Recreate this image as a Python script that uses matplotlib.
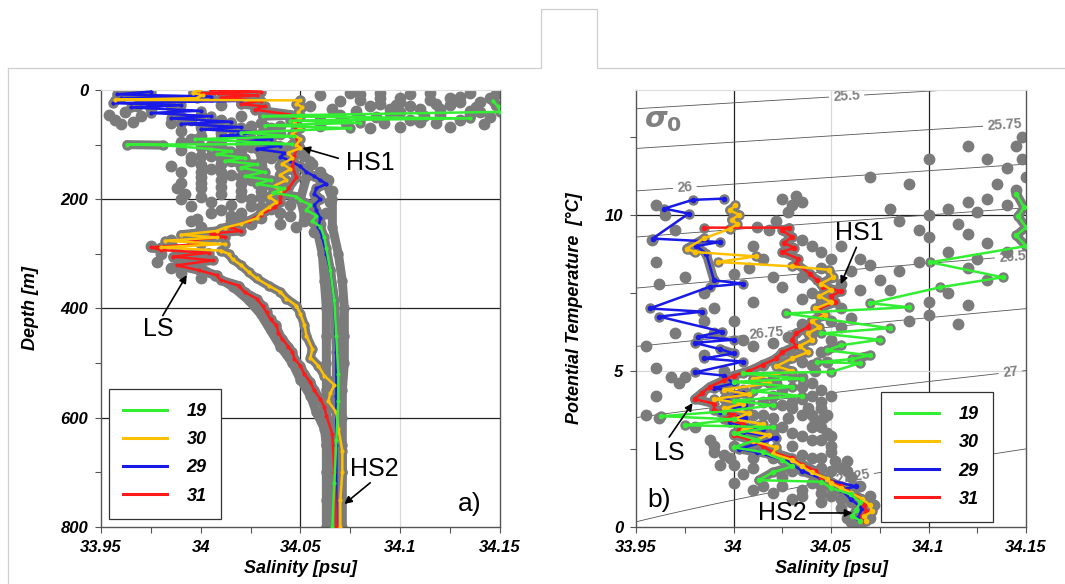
import numpy as np
import matplotlib.pyplot as plt
from matplotlib.lines import Line2D

plt.rcParams['font.family'] = ['Liberation Sans', 'DejaVu Sans']

# colours of the four stations
C19 = '#33ee33'
C30 = '#ffc000'
C29 = '#1a1ae6'
C31 = '#ff1a1a'
GRAY = '#7b7b7b'

stations = ['19', '30', '29', '31']

# ---------------- panel a) : (salinity psu, depth m) ----------------
st19_a = [(34.1465, 20), (34.149, 30), (34.15, 40), (34.05, 46), (34.031, 48), (34.135, 52),
          (34.045, 56), (34.08, 60), (34.032, 65), (34.075, 70), (34.02, 78), (34.047, 85),
          (33.997, 90), (34.046, 99), (33.963, 100), (33.981, 101), (34.005, 108), (34.015, 112),
          (34.008, 118), (34.022, 124), (34.012, 130), (34.028, 136), (34.02, 142), (34.032, 150),
          (34.022, 158), (34.035, 165), (34.028, 172), (34.042, 180), (34.036, 188), (34.048, 195),
          (34.05, 202), (34.055, 210), (34.053, 220), (34.058, 230), (34.056, 240), (34.06, 250),
          (34.062, 270), (34.063, 290), (34.065, 330), (34.067, 385), (34.068, 450), (34.069, 520),
          (34.069, 570), (34.068, 640), (34.067, 720), (34.066, 800)]

st29_a = [(33.975, 3), (33.958, 8), (34.005, 12), (33.96, 15), (34.02, 20), (33.956, 24),
          (33.99, 28), (33.965, 32), (34.0, 38), (33.975, 42), (34.005, 48), (33.985, 52),
          (34.015, 58), (33.99, 62), (34.02, 68), (34.0, 72), (34.03, 78), (34.01, 84),
          (34.035, 90), (34.02, 96), (34.04, 102), (34.028, 108), (34.042, 115), (34.04, 122),
          (34.045, 130), (34.05, 140), (34.053, 150), (34.057, 158), (34.06, 165), (34.063, 172),
          (34.058, 180), (34.057, 190), (34.06, 200), (34.057, 210), (34.058, 220), (34.06, 235),
          (34.059, 250), (34.061, 270), (34.063, 300), (34.065, 330), (34.067, 385), (34.068, 480),
          (34.068, 560), (34.068, 650), (34.068, 800)]

st30_a = [(33.999, 0), (33.996, 5), (34.001, 10), (33.998, 15), (33.957, 18), (34.05, 19),
          (34.048, 25), (34.051, 32), (34.049, 40), (34.05, 50), (34.047, 60), (34.05, 70),
          (34.046, 80), (34.05, 90), (34.048, 100), (34.05, 106), (34.044, 115), (34.046, 125),
          (34.041, 135), (34.045, 145), (34.04, 155), (34.043, 165), (34.037, 175), (34.04, 185),
          (34.034, 195), (34.038, 205), (34.034, 215), (34.03, 225), (34.028, 235), (34.02, 245),
          (34.012, 252), (34.008, 258), (33.99, 265), (34.008, 270), (33.982, 276), (34.012, 282),
          (33.98, 288), (34.01, 294), (34.014, 300), (34.016, 310), (34.02, 320), (34.024, 333),
          (34.028, 345), (34.034, 358), (34.04, 370), (34.043, 382), (34.048, 395), (34.05, 410),
          (34.052, 430), (34.053, 450), (34.056, 474), (34.055, 490), (34.059, 505), (34.062, 523),
          (34.067, 540), (34.065, 555), (34.064, 570), (34.068, 590), (34.069, 620), (34.071, 660),
          (34.071, 700), (34.07, 750), (34.07, 800)]

st31_a = [(34.005, 0), (34.03, 3), (34.0, 6), (34.028, 10), (34.01, 14), (34.03, 20),
          (34.02, 26), (34.032, 30), (34.027, 36), (34.045, 45), (34.048, 60), (34.047, 80),
          (34.049, 100), (34.047, 120), (34.046, 140), (34.048, 160), (34.044, 180), (34.04, 195),
          (34.04, 205), (34.037, 215), (34.03, 228), (34.024, 240), (34.015, 251), (34.02, 258),
          (34.005, 263), (34.012, 269), (33.995, 275), (34.0, 282), (33.975, 288), (33.98, 293),
          (34.004, 298), (33.986, 305), (34.006, 312), (33.988, 321), (33.999, 330), (34.008, 339),
          (34.01, 348), (34.019, 358), (34.022, 370), (34.028, 382), (34.031, 395), (34.033, 407),
          (34.035, 420), (34.038, 431), (34.039, 445), (34.041, 456), (34.044, 470), (34.046, 480),
          (34.047, 492), (34.05, 505), (34.052, 520), (34.055, 535), (34.057, 550), (34.06, 566),
          (34.062, 580), (34.063, 596), (34.066, 630), (34.067, 700), (34.068, 800)]

# other stations of the survey (grey)
band_lo_a = [(34.055, 130), (34.053, 160), (34.05, 200), (34.052, 230), (34.058, 250), (34.061, 300),
             (34.062, 350), (34.063, 400), (34.063, 450), (34.063, 500), (34.063, 550), (34.063, 600),
             (34.063, 650), (34.063, 700), (34.063, 750), (34.063, 800)]
band_hi_a = [(34.062, 160), (34.066, 200), (34.066, 250), (34.069, 300), (34.071, 350), (34.072, 400),
             (34.072, 450), (34.072, 500), (34.071, 550), (34.071, 600), (34.071, 650), (34.071, 700),
             (34.071, 750), (34.071, 800)]
band_ls_a = [(33.985, 280), (33.99, 300), (33.997, 320), (34.007, 340), (34.016, 360), (34.024, 385),
             (34.03, 410), (34.035, 440), (34.04, 470), (34.046, 500), (34.05, 530), (34.055, 560),
             (34.058, 590), (34.062, 620), (34.063, 650)]
dots_a = [(34.06, 10), (34.07, 20), (34.08, 8), (34.085, 30), (34.09, 15), (34.095, 42), (34.1, 22),
          (34.105, 8), (34.11, 35), (34.115, 18), (34.12, 45), (34.125, 28), (34.13, 12), (34.135, 38),
          (34.14, 22), (34.145, 50), (34.148, 8), (34.142, 62), (34.13, 55), (34.118, 60), (34.105, 55),
          (34.092, 60), (34.08, 52), (34.07, 45), (34.066, 35), (34.1, 68), (34.085, 70), (34.125, 68),
          (34.138, 32), (34.112, 48), (34.098, 28), (34.078, 38), (34.148, 28), (34.135, 5),
          (34.075, 5), (34.09, 5), (34.115, 5), (34.125, 15), (34.145, 15), (34.1, 40), (34.118, 25),
          (34.13, 22), (34.14, 40), (34.088, 50), (34.11, 58), (34.095, 35), (34.073, 60), (34.06, 55),
          (34.055, 30), (34.06, 65),
          (33.954, 45), (33.957, 55), (33.962, 40), (33.966, 58), (33.97, 48), (33.96, 62), (33.975, 35),
          (33.968, 30), (33.985, 60), (33.99, 75), (34.0, 68), (34.01, 78), (33.995, 90), (34.005, 100),
          (33.99, 110), (34.0, 120), (34.01, 115), (34.015, 130), (34.005, 145), (34.015, 155),
          (34.02, 140), (34.0, 160), (33.99, 170), (33.988, 180), (33.992, 190), (33.99, 200),
          (33.995, 212), (34.005, 205), (34.01, 220), (34.015, 230), (34.02, 225), (34.03, 215),
          (34.025, 200), (34.03, 185), (34.035, 170), (34.025, 165), (34.03, 150), (34.035, 125),
          (34.025, 105), (34.03, 90), (34.02, 85), (34.04, 80), (34.045, 130), (34.04, 155),
          (34.0, 250), (34.01, 255), (34.02, 245), (33.998, 236), (34.052, 120), (34.056, 135),
          (34.06, 150), (34.064, 165), (34.066, 185), (34.065, 205), (34.063, 225), (34.06, 245),
          (34.057, 260), (34.052, 240), (34.055, 215), (34.058, 195), (33.975, 285), (33.98, 300),
          (33.978, 315), (33.985, 325), (33.99, 335), (33.985, 275), (33.995, 265), (34.0, 345),
          (33.99, 50), (34.0, 45), (34.01, 55), (34.02, 48), (34.03, 60), (34.04, 65), (34.015, 70),
          (34.025, 75), (34.035, 85), (34.0, 85), (33.99, 95), (34.01, 92), (34.02, 100), (34.035, 110),
          (34.04, 120), (34.03, 130), (34.02, 125), (34.01, 135), (33.995, 130), (34.005, 120),
          (33.985, 140), (33.99, 150), (34.0, 150), (34.01, 165), (34.02, 160), (34.03, 170),
          (34.02, 185), (34.01, 190), (34.0, 180), (34.04, 195), (34.035, 205), (34.045, 210),
          (34.04, 225), (34.03, 235), (34.025, 245), (34.015, 240), (34.005, 225), (33.995, 240),
          (34.045, 105), (34.04, 140), (33.975, 20), (33.985, 30), (33.97, 12), (34.01, 28),
          (33.995, 55), (34.005, 60), (34.015, 62), (34.025, 65), (34.035, 70), (34.01, 88),
          (34.025, 92), (34.0, 105), (34.01, 104), (34.02, 112), (34.03, 118), (33.995, 122),
          (34.01, 125), (34.02, 135), (34.03, 140), (34.0, 138), (34.025, 150), (34.01, 150),
          (34.0, 170), (34.02, 172), (34.01, 178), (34.03, 195), (34.02, 195), (34.0, 195),
          (34.015, 210), (34.025, 212), (34.035, 218), (34.02, 235), (34.045, 230), (34.048, 250),
          (34.04, 245), (34.09, 25), (34.105, 30), (34.12, 35), (34.135, 45), (34.08, 18), (34.1, 15)]

# ---------------- panel b) : (salinity psu, potential temperature degC) ----------------
st19_b = [(34.145, 10.68), (34.149, 10.24), (34.146, 9.95), (34.15, 9.6), (34.145, 9.34), (34.15, 9.0),
          (34.101, 8.48), (34.138, 8.0), (34.106, 7.68), (34.07, 7.17), (34.09, 7.04), (34.027, 6.84),
          (34.08, 6.37), (34.045, 6.2), (34.075, 6.0), (34.055, 5.82), (34.048, 5.66), (34.07, 5.5),
          (34.061, 5.38), (34.043, 5.28), (34.065, 5.25), (34.05, 4.97), (34.005, 4.92), (34.035, 4.75),
          (34.0, 4.65), (34.03, 4.5), (34.01, 4.35), (34.035, 4.2), (34.0, 4.05), (34.02, 3.9),
          (33.995, 3.7), (33.963, 3.55), (34.0, 3.45), (33.975, 3.26), (34.02, 3.2), (34.0, 3.0),
          (34.012, 2.8), (34.0, 2.55), (34.015, 2.4), (34.025, 2.15), (34.03, 1.94), (34.02, 1.75),
          (34.013, 1.5), (34.045, 1.45), (34.05, 1.25), (34.06, 1.05), (34.065, 0.8), (34.063, 0.55),
          (34.061, 0.35), (34.065, 0.2)]

st29_b = [(33.995, 10.52), (33.979, 10.48), (33.9645, 10.2), (33.977, 10.04), (33.9585, 9.24),
          (33.993, 9.13), (33.981, 9.0), (33.986, 8.76), (33.99, 7.9), (34.005, 7.8), (33.988, 7.7),
          (33.957, 7.0), (33.984, 6.9), (33.962, 6.74), (33.994, 6.26), (33.982, 6.1), (34.0, 6.0),
          (33.98, 5.9), (33.993, 5.7), (34.0, 5.56), (33.985, 5.4), (34.005, 5.3), (33.98, 4.95),
          (33.995, 4.85), (34.0, 4.6), (33.99, 4.45), (34.005, 4.3), (33.995, 4.1), (34.006, 3.9),
          (33.993, 3.7), (34.006, 3.5), (33.998, 3.35), (34.015, 3.15), (34.005, 3.05), (34.022, 2.85),
          (34.003, 2.5), (34.012, 2.4), (34.028, 2.1), (34.035, 1.8), (34.045, 1.55), (34.063, 1.3),
          (34.055, 1.2), (34.06, 0.9), (34.066, 0.6), (34.064, 0.3)]

st30_b = [(34.001, 10.3), (33.998, 10.15), (34.003, 10.0), (33.999, 9.85), (34.002, 9.7),
          (33.998, 9.55), (33.985, 9.25), (33.976, 8.92), (33.98, 8.81), (34.0115, 8.67),
          (33.992, 8.49), (34.03, 8.35), (34.049, 8.24), (34.051, 8.0), (34.045, 7.8), (34.05, 7.6),
          (34.044, 7.4), (34.05, 7.2), (34.042, 7.0), (34.047, 6.8), (34.04, 6.6), (34.044, 6.4),
          (34.038, 6.2), (34.04, 6.0), (34.034, 5.8), (34.038, 5.6), (34.03, 5.4), (34.022, 5.15),
          (34.03, 5.0), (34.01, 4.75), (34.018, 4.6), (33.995, 4.4), (34.008, 4.25), (33.99, 4.1),
          (34.005, 3.95), (33.995, 3.8), (34.008, 3.65), (34.0, 3.45), (34.015, 3.3), (34.005, 3.1),
          (34.018, 2.95), (34.01, 2.75), (34.022, 2.55), (34.02, 2.35), (34.03, 2.15), (34.035, 1.95),
          (34.04, 1.75), (34.048, 1.55), (34.05, 1.4), (34.055, 1.25), (34.06, 1.1), (34.066, 0.9),
          (34.07, 0.7), (34.071, 0.5), (34.067, 0.35), (34.068, 0.2)]

st31_b = [(33.985, 9.59), (34.0286, 9.59), (34.025, 9.5), (34.03, 9.3), (34.026, 9.1), (34.031, 8.95),
          (34.025, 8.81), (34.033, 8.6), (34.032, 8.44), (34.039, 8.12), (34.043, 7.9), (34.046, 7.7),
          (34.055, 7.55), (34.05, 7.4), (34.052, 7.2), (34.044, 7.0), (34.046, 6.8), (34.04, 6.6),
          (34.038, 6.4), (34.032, 6.2), (34.03, 6.0), (34.032, 5.8), (34.025, 5.6), (34.022, 5.4),
          (34.015, 5.2), (34.008, 5.0), (34.0, 4.85), (33.995, 4.7), (33.988, 4.5), (33.984, 4.3),
          (33.98, 4.1), (33.99, 3.95), (33.99, 3.75), (34.0, 3.6), (33.995, 3.45), (34.005, 3.3),
          (34.003, 3.1), (34.0, 2.95), (34.008, 2.8), (34.015, 2.6), (34.02, 2.4), (34.03, 2.2),
          (34.035, 2.0), (34.042, 1.8), (34.045, 1.6), (34.05, 1.45), (34.055, 1.3), (34.058, 1.15),
          (34.063, 1.0), (34.065, 0.85), (34.067, 0.7), (34.068, 0.5), (34.066, 0.35), (34.067, 0.2)]

dots_b = [(34.145, 12.2), (34.148, 11.8), (34.14, 11.5), (34.15, 11.2), (34.135, 11.0), (34.145, 10.8),
          (34.13, 10.5), (34.14, 10.3), (34.125, 10.1), (34.12, 10.4), (34.11, 10.2), (34.1, 10.0),
          (34.115, 9.7), (34.12, 9.4), (34.1, 9.3), (34.13, 9.1), (34.14, 8.8), (34.125, 8.6),
          (34.11, 8.8), (34.095, 9.5), (34.085, 9.8), (34.08, 10.2), (34.095, 8.5), (34.085, 8.2),
          (34.12, 8.3), (34.13, 7.9), (34.11, 7.5), (34.1, 7.2), (34.12, 7.1), (34.115, 6.5),
          (34.1, 6.8), (34.09, 6.6), (34.08, 7.6), (34.075, 7.9), (34.07, 8.4), (34.065, 7.6),
          (34.06, 6.7), (34.1, 11.8), (34.12, 12.2), (34.07, 11.2), (34.09, 11.0), (34.13, 11.8),
          (34.148, 12.5), (34.025, 10.5), (34.03, 10.3), (34.032, 10.6), (34.035, 10.4), (34.028, 10.1),
          (34.022, 9.8), (34.018, 9.5), (34.012, 9.6), (34.035, 9.2), (34.04, 9.0), (34.045, 8.8),
          (34.05, 8.6), (34.055, 9.0), (34.01, 9.0), (34.015, 8.6), (34.008, 8.3), (34.02, 8.0),
          (34.025, 7.7), (34.0, 8.1), (34.035, 7.3), (34.055, 7.8), (34.06, 8.2), (34.065, 8.6),
          (33.96, 10.3), (33.965, 10.0), (33.97, 9.5), (33.958, 9.2), (33.96, 8.5), (33.962, 7.8),
          (33.975, 8.0), (33.985, 7.5), (33.99, 7.0), (33.985, 6.6), (33.97, 6.2), (33.955, 5.8),
          (33.96, 5.1), (33.968, 4.8), (33.972, 4.6), (33.96, 4.2), (33.955, 3.6), (33.962, 3.5),
          (33.98, 3.2), (33.975, 4.8), (33.985, 5.5), (33.995, 5.0), (33.99, 6.2), (34.0, 6.6),
          (34.01, 7.2), (34.005, 6.0), (34.01, 5.8), (34.015, 5.2), (34.02, 4.8), (34.025, 4.4),
          (34.03, 4.0), (34.035, 3.6), (34.04, 3.2), (34.045, 2.8), (34.05, 2.4), (34.04, 2.2),
          (34.035, 4.8), (34.04, 5.2), (34.045, 5.6), (34.05, 6.0), (34.055, 6.4), (34.045, 6.8),
          (34.02, 3.5), (34.01, 3.0), (34.0, 2.6), (33.995, 2.3), (34.0, 2.0), (34.005, 1.7),
          (34.015, 1.3), (34.025, 1.6), (34.05, 1.8), (34.055, 1.9), (34.06, 1.6), (34.065, 1.3),
          (34.07, 1.0), (34.072, 0.7), (34.068, 0.4), (34.06, 0.15), (34.055, 0.9), (34.045, 1.1),
          (34.035, 1.2), (34.058, 2.1), (34.03, 2.6), (34.025, 3.2), (34.015, 4.0), (34.005, 4.4),
          (34.03, 5.5), (34.025, 5.0), (34.035, 4.5), (34.04, 4.2), (34.045, 3.8), (34.042, 3.4),
          (34.048, 3.0), (34.04, 2.8), (34.035, 2.3), (34.045, 2.2), (34.05, 2.6), (34.046, 3.5),
          (34.03, 3.8), (34.02, 4.2), (34.01, 3.6), (34.005, 3.3), (34.015, 2.8), (34.02, 2.2),
          (34.01, 1.9), (33.99, 2.4), (33.988, 2.8), (33.993, 2.0), (34.0, 1.4), (34.02, 1.1),
          (34.03, 0.9), (34.045, 0.8), (34.055, 0.6), (34.062, 0.4), (34.07, 0.3), (34.065, 0.1),
          (34.058, 0.3), (34.055, 1.2), (34.04, 1.4), (34.03, 1.8), (34.04, 6.2), (34.035, 6.5),
          (34.05, 6.6), (34.055, 7.0), (34.04, 7.5), (34.045, 7.2), (34.05, 8.0), (34.045, 8.3),
          (34.035, 8.0),
          (34.02, 5.9), (34.028, 6.1), (34.035, 5.3), (34.042, 5.0), (34.048, 5.3), (34.012, 4.6),
          (34.022, 4.6), (34.04, 4.6), (34.045, 4.4), (34.05, 4.2), (34.03, 4.8), (34.008, 4.0),
          (34.025, 3.9), (34.035, 4.1), (34.045, 4.0), (34.048, 3.6), (34.038, 3.8), (34.015, 3.6),
          (34.008, 2.7), (34.02, 3.0), (34.03, 3.0), (34.035, 2.9), (34.045, 3.2), (34.05, 2.9),
          (34.028, 3.5), (34.04, 3.6), (33.99, 2.6), (33.998, 2.2), (34.01, 2.2), (34.022, 2.4),
          (34.035, 2.0), (34.045, 1.9), (34.052, 2.1), (34.058, 1.8), (34.01, 1.2), (34.025, 1.3),
          (34.035, 1.0), (34.045, 1.3), (34.05, 1.0), (34.06, 0.8), (34.065, 0.6), (34.07, 0.5),
          (34.06, 1.2)]

sigma_levels = [25.5, 25.75, 26, 26.25, 26.5, 26.75, 27, 27.25]
sigma_label_pos = [(34.058, 13.8), (34.139, 12.86), (33.975, 10.9), (34.143, 8.64),
                   (34.017, 6.2), (34.142, 4.96), (34.061, 1.66)]


def sigma0(s, t):
    # UNESCO (EOS-80) density at p = 0, minus 1000
    rw = (999.842594 + 6.793952e-2 * t - 9.095290e-3 * t ** 2 + 1.001685e-4 * t ** 3
          - 1.120083e-6 * t ** 4 + 6.536332e-9 * t ** 5)
    a = 0.824493 - 4.0899e-3 * t + 7.6438e-5 * t ** 2 - 8.2467e-7 * t ** 3 + 5.3875e-9 * t ** 4
    b = -5.72466e-3 + 1.0227e-4 * t - 1.6546e-6 * t ** 2
    return rw + a * s + b * s ** 1.5 + 4.8314e-4 * s ** 2 - 1000.0


def xy(pairs):
    arr = np.array(pairs, dtype=float)
    return arr[:, 0], arr[:, 1]


def broken(pairs, maxstep):
    # same points, but the grey halo is not drawn across the long salinity jumps
    s, v = xy(pairs)
    out_s, out_v = [s[0]], [v[0]]
    for i in range(1, len(s)):
        if abs(s[i] - s[i - 1]) > maxstep:
            out_s.append(np.nan)
            out_v.append(np.nan)
        out_s.append(s[i])
        out_v.append(v[i])
    return out_s, out_v


def halo(ax, pairs, maxstep):
    s, v = broken(pairs, maxstep)
    ax.plot(s, v, color=GRAY, lw=6.5, solid_capstyle='round', solid_joinstyle='round', zorder=2)
    s, v = xy(pairs)
    ax.plot(s, v, 'o', color=GRAY, ms=6.5, zorder=2)


TICKFONT = dict(fontsize=12, fontweight='bold', fontstyle='italic')
LABFONT = dict(fontsize=13, fontweight='bold', fontstyle='italic')

fig = plt.figure(figsize=(10.65, 5.84), dpi=100)

# frame lines of the original figure
fl = dict(color='#cfcfcf', lw=0.9, transform=fig.transFigure)
fig.add_artist(Line2D([0.0075, 0.508, 0.508, 0.5606, 0.5606, 0.999],
                      [0.8836, 0.8836, 0.9846, 0.9846, 0.8836, 0.8836], **fl))
fig.add_artist(Line2D([0.0075, 0.0075], [0.8836, 0.0], **fl))


def style_axes(ax):
    for side in ['left', 'bottom', 'right']:
        ax.spines[side].set_color('#555555')
        ax.spines[side].set_linewidth(1.0)
    ax.spines['top'].set_color('#dddddd')
    ax.set_xlim(33.95, 34.15)
    ax.set_xticks([33.95, 34.0, 34.05, 34.1, 34.15])
    ax.set_xticklabels(['33.95', '34', '34.05', '34.1', '34.15'], **TICKFONT)
    ax.set_xticks([33.975, 34.025, 34.075, 34.125], minor=True)
    ax.tick_params(which='both', direction='out', color='#555555', length=4, width=0.8, pad=5)
    ax.set_xlabel('Salinity [psu]', **LABFONT, labelpad=4)


def station_lines(ax, data, colours, lw, ms):
    for pairs, c in zip(data, colours):
        s, v = xy(pairs)
        ax.plot(s, v, color=c, lw=lw, marker='o', ms=ms, zorder=4)


# ---------------- panel a ----------------
ax1 = fig.add_axes([0.0948, 0.0976, 0.3746, 0.7483])
style_axes(ax1)
ax1.set_ylim(800, 0)
ax1.set_yticks([0, 200, 400, 600, 800])
ax1.set_yticklabels(['0', '200', '400', '600', '800'], **TICKFONT)
ax1.set_yticks([100, 300, 500, 700], minor=True)
ax1.set_ylabel('Depth [m]', **LABFONT)
ax1.yaxis.set_label_coords(-0.155, 0.5)

ax1.axvline(34.05, color='#222222', lw=0.9, zorder=1)
ax1.axvline(34.1, color='#d8d8d8', lw=0.9, zorder=1)
for d in [200, 400, 600]:
    ax1.axhline(d, color='#222222', lw=0.9, zorder=1)

for pairs in [band_lo_a, band_hi_a, band_ls_a, st19_a, st29_a, st30_a, st31_a]:
    halo(ax1, pairs, 0.02)
s, v = xy(dots_a)
ax1.plot(s, v, 'o', color=GRAY, ms=7.5, zorder=2)

station_lines(ax1, [st29_a, st31_a, st30_a, st19_a], [C29, C31, C30, C19], 1.8, 2.0)

arrow = dict(arrowstyle='-|>', color='black', lw=1.2, mutation_scale=11, shrinkA=0, shrinkB=0)
ax1.annotate('', xy=(34.051, 106), xytext=(34.069, 125), arrowprops=arrow, zorder=6)
ax1.text(34.085, 133, 'HS1', fontsize=18, ha='center', va='center', zorder=6)
ax1.annotate('', xy=(33.993, 339), xytext=(33.981, 413), arrowprops=arrow, zorder=6)
ax1.text(33.979, 437, 'LS', fontsize=18, ha='center', va='center', zorder=6)
ax1.annotate('', xy=(34.072, 758), xytext=(34.085, 719), arrowprops=arrow, zorder=6)
ax1.text(34.087, 693, 'HS2', fontsize=18, ha='center', va='center', zorder=6)
ax1.text(34.135, 757, 'a)', fontsize=19, ha='center', va='center', zorder=6)

handles = [Line2D([], [], color=c, lw=2.2) for c in [C19, C30, C29, C31]]
leg_kw = dict(loc='lower left', borderaxespad=0, fancybox=False, framealpha=1,
              edgecolor='#333333', handlelength=2.4, handletextpad=1.1, labelspacing=0.62,
              borderpad=0.8, prop=dict(size=13, weight='bold', style='italic'))
leg1 = ax1.legend(handles, stations, bbox_to_anchor=(0.02, 0.018), **leg_kw)
leg1.get_frame().set_linewidth(0.9)
leg1.set_zorder(7)

# ---------------- panel b ----------------
ax2 = fig.add_axes([0.5972, 0.0976, 0.3662, 0.7483])
style_axes(ax2)
ax2.set_ylim(0, 14)
ax2.set_yticks([0, 5, 10])
ax2.set_yticklabels(['0', '5', '10'], **TICKFONT)
ax2.set_yticks([2.5, 7.5, 12.5], minor=True)
ax2.set_ylabel('Potential Temperature  [\u00b0C]', **LABFONT)
ax2.yaxis.set_label_coords(-0.135, 0.5)

ax2.axvline(34.0, color='#222222', lw=0.9, zorder=1)
ax2.axvline(34.1, color='#222222', lw=0.9, zorder=1)
ax2.axvline(34.05, color='#d8d8d8', lw=0.9, zorder=1)
ax2.axhline(10, color='#222222', lw=0.9, zorder=1)
ax2.axhline(5, color='#d8d8d8', lw=0.9, zorder=1)

sg, tg = np.meshgrid(np.linspace(33.94, 34.16, 220), np.linspace(-0.5, 14.5, 300))
cs = ax2.contour(sg, tg, sigma0(sg, tg), levels=sigma_levels, colors='#555555',
                 linewidths=0.6, zorder=1)
labels = ax2.clabel(cs, fmt=lambda v: f'{v:g}', fontsize=10, manual=sigma_label_pos,
                    inline=True, inline_spacing=4)
for t in labels:
    t.set_color('#808080')
    t.set_fontweight('bold')
    t.set_zorder(1.5)

for pairs in [st19_b, st29_b, st30_b, st31_b]:
    halo(ax2, pairs, 0.012)
s, v = xy(dots_b)
ax2.plot(s, v, 'o', color=GRAY, ms=7.5, zorder=2)

station_lines(ax2, [st29_b, st31_b, st30_b, st19_b], [C29, C31, C30, C19], 1.8, 3.0)

ax2.text(33.964, 13.05, r'$\boldsymbol{\sigma}_{\boldsymbol{0}}$', fontsize=21, color='#808080',
         ha='center', va='center', zorder=6)
ax2.annotate('', xy=(34.055, 7.78), xytext=(34.063, 8.96), arrowprops=arrow, zorder=6)
ax2.text(34.0644, 9.41, 'HS1', fontsize=18, ha='center', va='center', zorder=6)
ax2.annotate('', xy=(33.979, 3.97), xytext=(33.967, 2.88), arrowprops=arrow, zorder=6)
ax2.text(33.967, 2.37, 'LS', fontsize=18, ha='center', va='center', zorder=6)
ax2.annotate('', xy=(34.061, 0.45), xytext=(34.039, 0.45), arrowprops=arrow, zorder=6)
ax2.text(34.025, 0.45, 'HS2', fontsize=18, ha='center', va='center', zorder=6)
ax2.text(33.962, 0.86, 'b)', fontsize=19, ha='center', va='center', zorder=6)

leg2 = ax2.legend(handles, stations, bbox_to_anchor=(0.628, 0.011), **leg_kw)
leg2.get_frame().set_linewidth(0.9)
leg2.set_zorder(7)

fig.savefig('out.png', dpi=100)
